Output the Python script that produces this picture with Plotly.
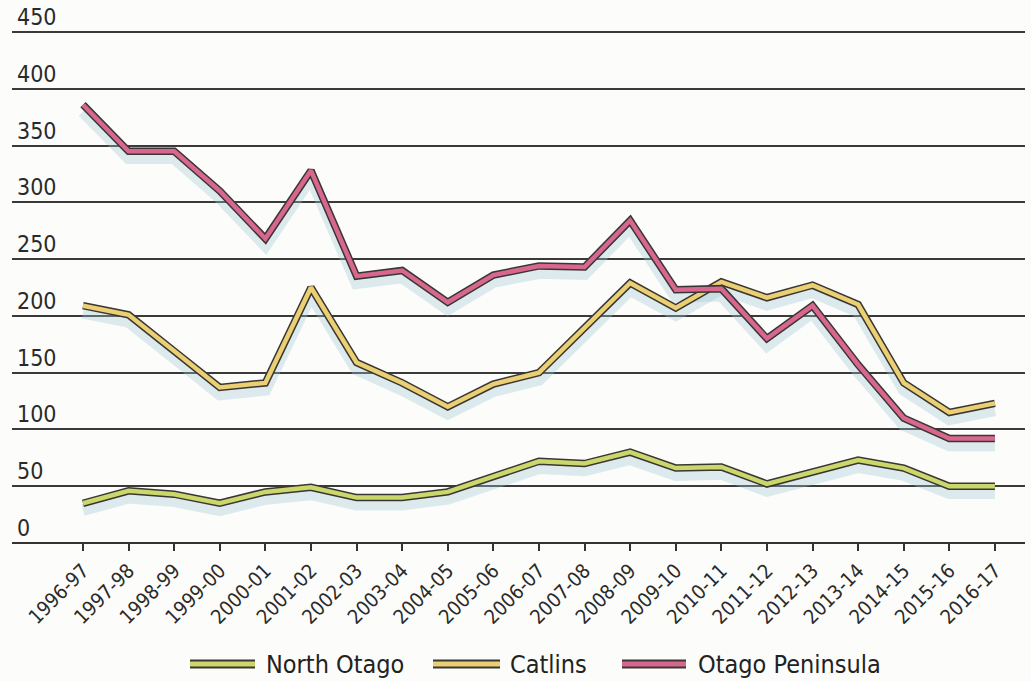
import plotly.graph_objects as go

seasons = ["1996-97", "1997-98", "1998-99", "1999-00", "2000-01", "2001-02", "2002-03",
           "2003-04", "2004-05", "2005-06", "2006-07", "2007-08", "2008-09", "2009-10",
           "2010-11", "2011-12", "2012-13", "2013-14", "2014-15", "2015-16", "2016-17"]

north_otago = [35, 46, 43, 35, 45, 49, 40, 40, 45, 58, 72, 70, 80, 66, 67, 52, 63, 73, 66, 50, 50]
catlins = [209, 201, 169, 137, 141, 225, 159, 141, 120, 140, 150, 190, 229, 207, 230, 216, 227, 210, 141, 115, 123]
otago_peninsula = [386, 345, 345, 310, 268, 328, 235, 240, 212, 236, 244, 243, 284, 223, 224, 180, 209, 157, 110, 92, 92]

y_ticks = [0, 50, 100, 150, 200, 250, 300, 350, 400, 450]

series = [
    ("North Otago", north_otago, "#c9d76b"),
    ("Catlins", catlins, "#ead073"),
    ("Otago Peninsula", otago_peninsula, "#d8678f"),
]

FONT = "Liberation Sans Narrow, DejaVu Sans Condensed, Arial Narrow, sans-serif"
OUTLINE = "#3b3533"

fig = go.Figure()
x_idx = list(range(len(seasons)))

# soft bluish drop shadow under each line
for name, vals, col in series:
    fig.add_trace(go.Scatter(x=x_idx, y=[v - 6 for v in vals], mode="lines",
                             line=dict(color="rgba(160,200,212,0.35)", width=12),
                             hoverinfo="skip", showlegend=False))

# dark outline followed by coloured core
for name, vals, col in series:
    fig.add_trace(go.Scatter(x=x_idx, y=vals, mode="lines",
                             line=dict(color=OUTLINE, width=7.5),
                             hoverinfo="skip", showlegend=False))
    fig.add_trace(go.Scatter(x=x_idx, y=vals, mode="lines", name=name,
                             line=dict(color=col, width=4.5),
                             showlegend=False))

# y labels sit above their gridlines at the left edge
for v in y_ticks:
    fig.add_annotation(x=0, xref="paper", y=v, yref="y", text=str(v),
                       showarrow=False, xanchor="left", yanchor="bottom",
                       xshift=3, yshift=0,
                       font=dict(family=FONT, size=23, color="#2a2a2a"))

# legend drawn underneath the axis
legend_items = [
    ("North Otago", "#c9d76b", 190, 255, 264),
    ("Catlins", "#ead073", 433, 500, 508),
    ("Otago Peninsula", "#d8678f", 622, 686, 696),
]
W, H = 1031, 681
L, R, T, B = 12, 6, 15, 138
pw, ph = W - L - R, H - T - B
ly = 664
for label, col, x0, x1, tx in legend_items:
    px0 = (x0 - L) / pw
    px1 = (x1 - L) / pw
    py = (H - B - ly) / ph
    fig.add_shape(type="line", xref="paper", yref="paper", x0=px0, x1=px1, y0=py, y1=py,
                  line=dict(color=OUTLINE, width=9))
    fig.add_shape(type="line", xref="paper", yref="paper", x0=px0, x1=px1, y0=py, y1=py,
                  line=dict(color=col, width=5))
    fig.add_annotation(x=(tx - L) / pw, xref="paper", y=py, yref="paper", text=label,
                       showarrow=False, xanchor="left", yanchor="middle",
                       font=dict(family=FONT, size=25, color="#222222"))

fig.update_layout(
    width=W, height=H,
    margin=dict(l=L, r=R, t=T, b=B),
    paper_bgcolor="#fcfcfa",
    plot_bgcolor="#fcfcfa",
    showlegend=False,
    xaxis=dict(
        range=[-1.557, 20.66],
        tickmode="array", tickvals=x_idx, ticktext=seasons,
        tickangle=-45,
        ticks="outside", ticklen=7, tickwidth=1.5, tickcolor="#333333",
        tickfont=dict(family=FONT, size=20, color="#2a2a2a"),
        showgrid=False, zeroline=False, showline=False,
    ),
    yaxis=dict(
        range=[0, 465],
        tickvals=y_ticks, showticklabels=False,
        showgrid=True, gridcolor="#3a3a3a", gridwidth=1.5,
        zeroline=True, zerolinecolor="#333333", zerolinewidth=2,
        showline=False,
    ),
)

fig.write_html("out.html")
